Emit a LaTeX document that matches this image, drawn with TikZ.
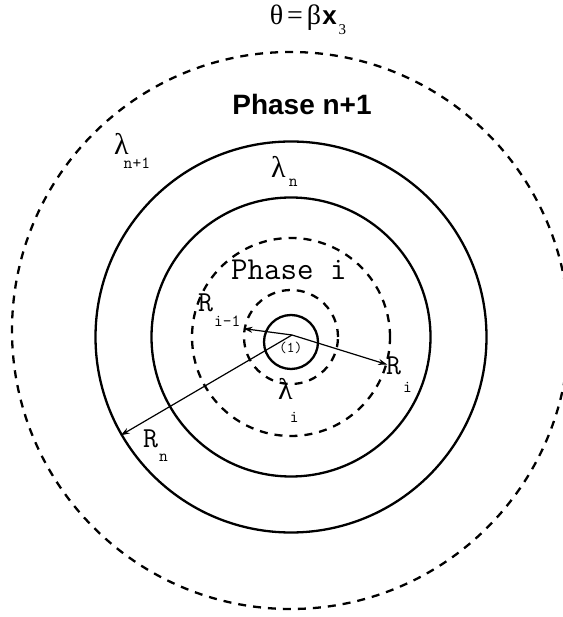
\documentclass[tikz,border=0pt]{standalone}
\usepackage{fontspec}
\setmainfont{Liberation Serif}
\setsansfont{Liberation Sans}
\setmonofont{Latin Modern Mono}
\usetikzlibrary{arrows.meta}
\newcommand{\fs}[1]{\fontsize{#1}{#1}\selectfont}
\newcommand{\lowsub}[2]{\raisebox{-#1}{\ttfamily\fs{17}#2}}

\begin{document}
\begin{tikzpicture}[x=1pt, y=1pt,
    ring/.style={circle, draw, line width=2.3pt, inner sep=0pt, minimum size=#1},
    dashring/.style={ring=#1, dash pattern=on 8pt off 7pt},
    radarrow/.style={-{Stealth[length=9pt, width=6pt]}, line width=1.2pt},
    lbl/.style={anchor=base west, inner sep=0pt}
]
    \useasboundingbox (0,0) rectangle (562,617);

    % rings
    \node[dashring=557] (outer) at (290.5,286.5) {};
    \node[ring=391] (lamn) at (291,280) {};
    \node[ring=279] (inner) at (291,280) {};
    \node[dashring=198] (phasei) at (291,280) {};
    \node[dashring=94] (lami) at (291,280) {};
    \node[ring=54] (core) at (291,275) {};
    \coordinate (o) at (292,282);

    % texts
    \node[anchor=base, inner sep=0pt] (eqn) at (308,592)
        {\fs{28}θ\hspace{4pt}=\hspace{4pt}β\hspace{1pt}\textbf{\sffamily\fs{26}x}\hspace{2pt}\raisebox{-10pt}{\fs{15}3}};
    \node[anchor=base, inner sep=0pt] (outerlbl) at (302,502) {\sffamily\bfseries\fs{28}Phase n+1};
    \node[lbl] (innerlbl) at (231,337) {\ttfamily\fs{32}Phase i};
    \node[lbl] (lbllamnn) at (114,462) {\fs{30}λ\hspace{-5pt}\lowsub{14pt}{n+1}};
    \node[lbl] (lbllamn) at (271,439) {\fs{30}λ\hspace{3pt}\lowsub{9pt}{n}};
    \node[lbl] (lbllami) at (278,217) {\fs{30}λ\hspace{-3pt}\lowsub{23pt}{i}};
    \node[lbl] (lblrim) at (198,305) {\ttfamily\fs{29}R\hspace{1pt}\lowsub{15pt}{i-1}};
    \node[lbl] (lblri) at (386,242) {\ttfamily\fs{29}R\hspace{2pt}\lowsub{18pt}{i}};
    \node[lbl] (lblrn) at (143,169) {\ttfamily\fs{29}R\hspace{1pt}\lowsub{14pt}{n}};
    \node[lbl] (lblcore) at (279,264) {\ttfamily\fs{15}(1)};

    % radii
    \draw[radarrow] (o) -- (lami.170);
    \draw[radarrow] (o) -- (phasei.-16);
    \draw[radarrow] (o) -- (lamn.210);
\end{tikzpicture}
\end{document}
